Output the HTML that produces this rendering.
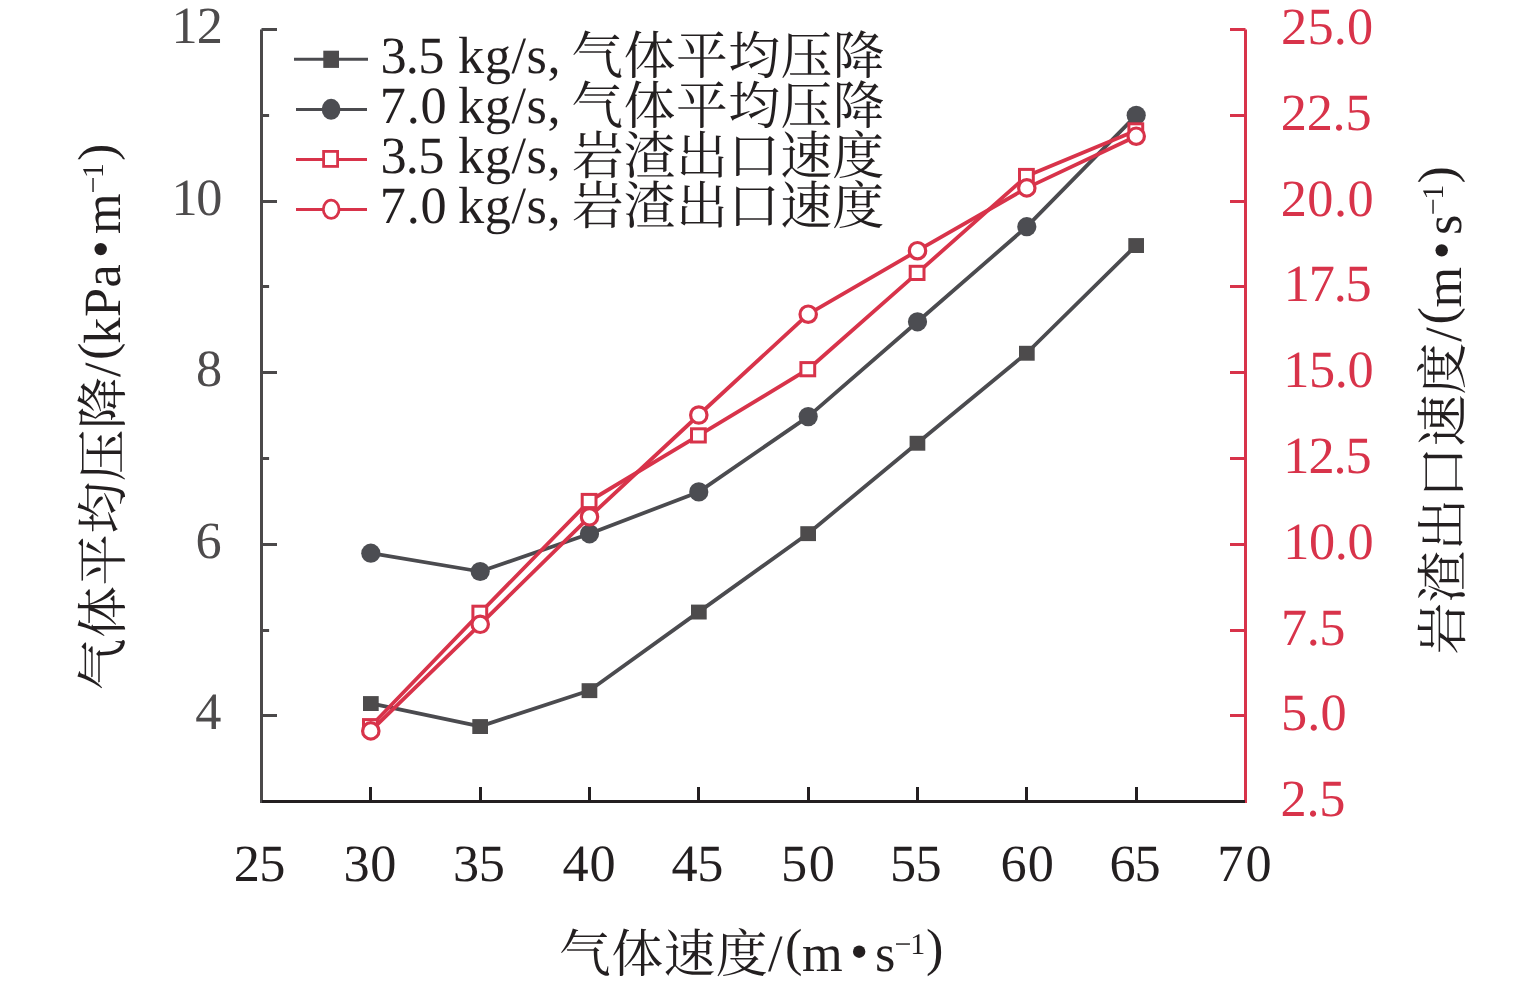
<!DOCTYPE html>
<html lang="zh-CN">
<head>
<meta charset="utf-8">
<title>气体速度对气体平均压降和岩渣出口速度的影响</title>
<style>
html,body{margin:0;padding:0;background:#fff;}
body{width:1535px;height:988px;overflow:hidden;}
svg{display:block;}
text{font-family:"Liberation Serif", "Noto Serif CJK SC", serif;font-size:52.3px;text-rendering:geometricPrecision;fill:#231f20;}
#left-labels text{fill:#4d4b4c;}
#right-labels text{fill:#d8334a;}
</style>
</head>
<body>
<svg width="1535" height="988" viewBox="0 0 1535 988" role="img" aria-label="气体速度对气体平均压降和岩渣出口速度的影响">
<rect x="0" y="0" width="1535" height="988" fill="#ffffff"/>
<g id="series-1">
<polyline points="370.8,703.4 480.2,726.4 589.5,690.5 698.8,611.9 808.2,533.5 917.5,443.0 1026.8,353.0 1136.2,245.3" fill="none" stroke="#4b4b4f" stroke-width="3.8" stroke-linejoin="round"/>
<rect x="363.0" y="696.1" width="15.7" height="14.9" fill="#4d4b4c"/>
<rect x="472.3" y="719.1" width="15.7" height="14.9" fill="#4d4b4c"/>
<rect x="581.6" y="683.2" width="15.7" height="14.9" fill="#4d4b4c"/>
<rect x="691.0" y="604.6" width="15.7" height="14.9" fill="#4d4b4c"/>
<rect x="800.3" y="526.2" width="15.7" height="14.9" fill="#4d4b4c"/>
<rect x="909.6" y="435.8" width="15.7" height="14.9" fill="#4d4b4c"/>
<rect x="1019.0" y="345.8" width="15.7" height="14.9" fill="#4d4b4c"/>
<rect x="1128.3" y="238.1" width="15.7" height="14.9" fill="#4d4b4c"/>
</g>
<g id="series-2">
<polyline points="370.8,553.2 480.2,571.5 589.5,533.8 698.8,491.9 808.2,416.6 917.5,321.8 1026.8,226.7 1136.2,115.3" fill="none" stroke="#4b4b4f" stroke-width="3.8" stroke-linejoin="round"/>
<circle cx="370.8" cy="553.2" r="9.6" fill="#4c4d52"/>
<circle cx="480.2" cy="571.5" r="9.6" fill="#4c4d52"/>
<circle cx="589.5" cy="533.8" r="9.6" fill="#4c4d52"/>
<circle cx="698.8" cy="491.9" r="9.6" fill="#4c4d52"/>
<circle cx="808.2" cy="416.6" r="9.6" fill="#4c4d52"/>
<circle cx="917.5" cy="321.8" r="9.6" fill="#4c4d52"/>
<circle cx="1026.8" cy="226.7" r="9.6" fill="#4c4d52"/>
<circle cx="1136.2" cy="115.3" r="9.6" fill="#4c4d52"/>
</g>
<g id="series-3">
<polyline points="370.8,726.2 480.2,612.8 589.5,501.0 698.8,435.4 808.2,369.2 917.5,272.9 1026.8,176.0 1136.2,130.4" fill="none" stroke="#d8334a" stroke-width="3.8" stroke-linejoin="round"/>
<rect x="363.5" y="719.6" width="13.8" height="13.2" fill="#fff" stroke="#d8334a" stroke-width="3"/>
<rect x="472.9" y="606.2" width="13.8" height="13.2" fill="#fff" stroke="#d8334a" stroke-width="3"/>
<rect x="582.2" y="494.4" width="13.8" height="13.2" fill="#fff" stroke="#d8334a" stroke-width="3"/>
<rect x="691.5" y="428.8" width="13.8" height="13.2" fill="#fff" stroke="#d8334a" stroke-width="3"/>
<rect x="800.9" y="362.6" width="13.8" height="13.2" fill="#fff" stroke="#d8334a" stroke-width="3"/>
<rect x="910.2" y="266.3" width="13.8" height="13.2" fill="#fff" stroke="#d8334a" stroke-width="3"/>
<rect x="1019.5" y="169.4" width="13.8" height="13.2" fill="#fff" stroke="#d8334a" stroke-width="3"/>
<rect x="1128.9" y="123.8" width="13.8" height="13.2" fill="#fff" stroke="#d8334a" stroke-width="3"/>
</g>
<g id="series-4">
<polyline points="370.8,730.9 480.2,624.3 589.5,516.8 698.8,415.0 808.2,314.2 917.5,250.7 1026.8,187.9 1136.2,136.2" fill="none" stroke="#d8334a" stroke-width="3.8" stroke-linejoin="round"/>
<circle cx="370.8" cy="730.9" r="8.2" fill="#fff" stroke="#d8334a" stroke-width="3.2"/>
<circle cx="480.2" cy="624.3" r="8.2" fill="#fff" stroke="#d8334a" stroke-width="3.2"/>
<circle cx="589.5" cy="516.8" r="8.2" fill="#fff" stroke="#d8334a" stroke-width="3.2"/>
<circle cx="698.8" cy="415.0" r="8.2" fill="#fff" stroke="#d8334a" stroke-width="3.2"/>
<circle cx="808.2" cy="314.2" r="8.2" fill="#fff" stroke="#d8334a" stroke-width="3.2"/>
<circle cx="917.5" cy="250.7" r="8.2" fill="#fff" stroke="#d8334a" stroke-width="3.2"/>
<circle cx="1026.8" cy="187.9" r="8.2" fill="#fff" stroke="#d8334a" stroke-width="3.2"/>
<circle cx="1136.2" cy="136.2" r="8.2" fill="#fff" stroke="#d8334a" stroke-width="3.2"/>
</g>
<g id="axes" fill="none" stroke-width="3">
<path d="M261.5 29.5V803.0" stroke="#4b494a"/>
<path d="M1245.5 29.5V803.0" stroke="#d8334a"/>
<path d="M262.0 801.5H1245.0" stroke="#231f20"/>
<path d="M261.5 715.5h15.5M261.5 630.5h7.6M261.5 544.5h15.5M261.5 458.5h7.6M261.5 372.5h15.5M261.5 286.5h7.6M261.5 201.5h15.5M261.5 115.5h7.6M261.5 29.5h15.5" stroke="#4b494a"/>
<path d="M1245.5 715.5h-15.5M1245.5 630.5h-15.5M1245.5 544.5h-15.5M1245.5 458.5h-15.5M1245.5 372.5h-15.5M1245.5 286.5h-15.5M1245.5 201.5h-15.5M1245.5 115.5h-15.5M1245.5 29.5h-15.5" stroke="#d8334a"/>
<path d="M370.5 801.5v-14.5M480.5 801.5v-14.5M589.5 801.5v-14.5M698.5 801.5v-14.5M808.5 801.5v-14.5M917.5 801.5v-14.5M1026.5 801.5v-14.5M1136.5 801.5v-14.5" stroke="#231f20"/>
</g>
<g id="left-labels">
<text x="195.2" y="728.5">4</text>
<text x="195.6" y="557.5">6</text>
<text x="195.9" y="385.5">8</text>
<text x="171.5" y="214.5" style="letter-spacing:-1.35px">10</text>
<text x="171.4" y="42.5" style="letter-spacing:-0.90px">12</text>
</g>
<g id="right-labels">
<text x="1280.5" y="816.4" style="letter-spacing:-0.20px">2.5</text>
<text x="1281.1" y="730.4" style="letter-spacing:0.05px">5.0</text>
<text x="1281.0" y="645.4" style="letter-spacing:-0.48px">7.5</text>
<text x="1283.3" y="559.4" style="letter-spacing:-0.43px">10.0</text>
<text x="1283.3" y="473.4" style="letter-spacing:-1.07px">12.5</text>
<text x="1283.3" y="387.4" style="letter-spacing:-0.43px">15.0</text>
<text x="1283.8" y="301.4" style="letter-spacing:-1.23px">17.5</text>
<text x="1280.7" y="216.4" style="letter-spacing:0.45px">20.0</text>
<text x="1280.7" y="130.4" style="letter-spacing:-0.18px">22.5</text>
<text x="1281.0" y="44.4" style="letter-spacing:0.25px">25.0</text>
</g>
<g id="bottom-labels">
<text x="233.8" y="880.8" style="letter-spacing:-0.80px">25</text>
<text x="343.6" y="880.8" style="letter-spacing:0.55px">30</text>
<text x="453.1" y="880.8" style="letter-spacing:-0.45px">35</text>
<text x="562.5" y="880.8" style="letter-spacing:0.75px">40</text>
<text x="671.6" y="880.8" style="letter-spacing:-0.45px">45</text>
<text x="781.1" y="880.8" style="letter-spacing:1.55px">50</text>
<text x="890.1" y="880.8" style="letter-spacing:-0.75px">55</text>
<text x="1000.4" y="880.8" style="letter-spacing:1.20px">60</text>
<text x="1109.5" y="880.8" style="letter-spacing:-1.10px">65</text>
<text x="1217.3" y="880.8" style="letter-spacing:2.05px">70</text>
</g>
<g id="legend-0">
<path d="M294 59.3H368" stroke="#4b4b4f" stroke-width="3" fill="none"/>
<rect x="323.3" y="50.7" width="15.7" height="17.2" fill="#4d4b4c"/>
<text x="380.4" y="72.8" style="letter-spacing:-0.67px">3.5</text>
<text x="458.1" y="72.8" style="letter-spacing:0.54px">kg/s,</text>
<text x="571.3" y="73.5" style="font-size:51.8px;letter-spacing:0.50px">气体平均压降</text>
</g>
<g id="legend-1">
<path d="M296 109.4H367" stroke="#4b4b4f" stroke-width="3" fill="none"/>
<ellipse cx="331.1" cy="109.3" rx="9.4" ry="10.5" fill="#4c4d52"/>
<text x="379.8" y="122.9" style="letter-spacing:0.75px">7.0</text>
<text x="458.1" y="122.9" style="letter-spacing:0.54px">kg/s,</text>
<text x="571.3" y="123.6" style="font-size:51.8px;letter-spacing:0.50px">气体平均压降</text>
</g>
<g id="legend-2">
<path d="M296 159.5H367" stroke="#d8334a" stroke-width="3" fill="none"/>
<rect x="323.6" y="151.4" width="14.0" height="15.0" fill="#fff" stroke="#d8334a" stroke-width="2.8"/>
<text x="380.4" y="173.0" style="letter-spacing:-0.67px">3.5</text>
<text x="458.1" y="173.0" style="letter-spacing:0.54px">kg/s,</text>
<text x="571.7" y="173.7" style="font-size:51.8px;letter-spacing:0.32px">岩渣出口速度</text>
</g>
<g id="legend-3">
<path d="M296 209.6H367" stroke="#d8334a" stroke-width="3" fill="none"/>
<ellipse cx="331.2" cy="209.3" rx="7.9" ry="9.1" fill="#fff" stroke="#d8334a" stroke-width="2.8"/>
<text x="379.8" y="223.1" style="letter-spacing:0.75px">7.0</text>
<text x="458.1" y="223.1" style="letter-spacing:0.54px">kg/s,</text>
<text x="571.7" y="223.8" style="font-size:51.8px;letter-spacing:0.32px">岩渣出口速度</text>
</g>
<g id="xtitle">
<text x="559.1" y="972.0" style="font-size:51.8px;letter-spacing:0.46px">气体速度</text>
<text x="768.0" y="971.3">/</text>
<text x="785.0" y="964.9">(</text>
<text x="802.0" y="971.3">m</text>
<text x="850.0" y="969.3">•</text>
<text x="875.1" y="971.3">s</text>
<text x="894.4" y="954.1" style="font-size:30.0px;letter-spacing:-0.95px">−1</text>
<text x="926.1" y="964.9">)</text>
</g>
<g id="ltitle">
<text transform="translate(120.9 690.2) rotate(-90)" style="font-size:51.8px;letter-spacing:0.42px">气体平均压降</text>
<text transform="translate(120.2 376.9) rotate(-90)">/</text>
<text transform="translate(113.8 359.9) rotate(-90)">(</text>
<text transform="translate(120.2 343.7) rotate(-90)" style="letter-spacing:0.47px">kPa</text>
<text transform="translate(118.2 258.3) rotate(-90)">•</text>
<text transform="translate(120.2 233.9) rotate(-90)">m</text>
<text transform="translate(103.1 193.5) rotate(-90)" style="font-size:30.0px;letter-spacing:-1.75px">−1</text>
<text transform="translate(113.8 160.9) rotate(-90)">)</text>
</g>
<g id="rtitle">
<text transform="translate(1461.2 654.4) rotate(-90)" style="font-size:51.8px;letter-spacing:0.18px">岩渣出口速度</text>
<text transform="translate(1460.5 341.7) rotate(-90)">/</text>
<text transform="translate(1454.1 324.6) rotate(-90)">(</text>
<text transform="translate(1460.5 307.4) rotate(-90)">m</text>
<text transform="translate(1458.5 259.6) rotate(-90)">•</text>
<text transform="translate(1460.5 234.9) rotate(-90)">s</text>
<text transform="translate(1443.1 215.3) rotate(-90)" style="font-size:30.0px;letter-spacing:-1.45px">−1</text>
<text transform="translate(1454.1 183.6) rotate(-90)">)</text>
</g>
</svg>
</body>
</html>
